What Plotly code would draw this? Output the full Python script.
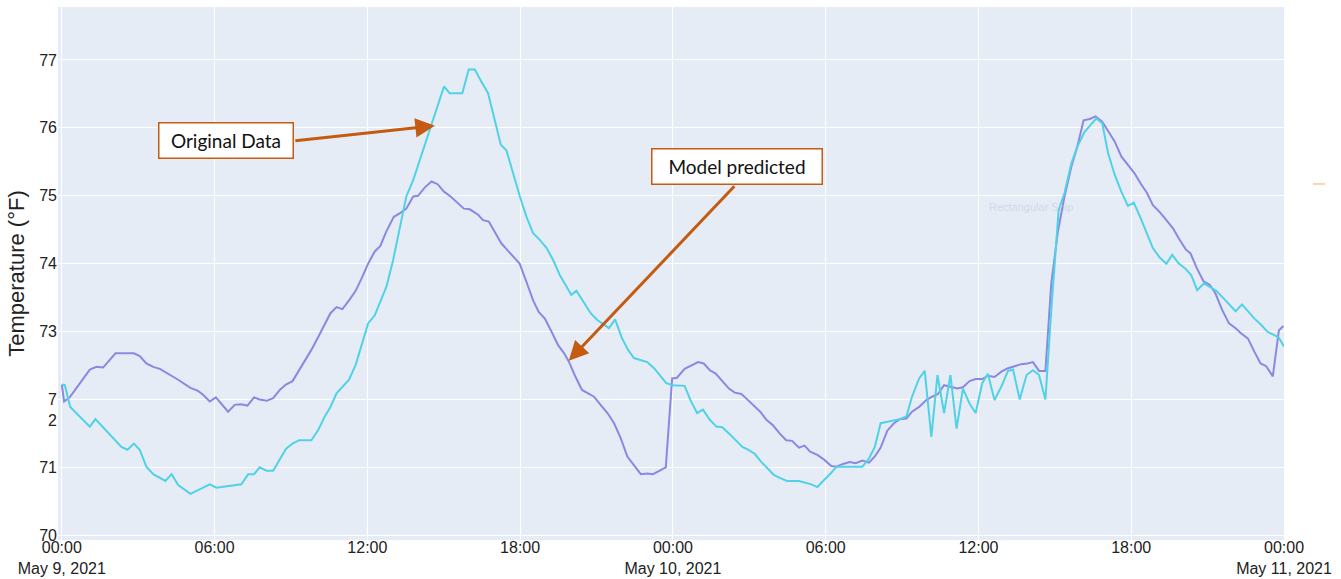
import pandas as pd
import plotly.graph_objects as go

START = pd.Timestamp("2021-05-09 00:00")

# Original data (hours since May 9 00:00, temperature in °F)
orig_hours = [0.0, 0.12, 0.33, 1.10, 1.32, 2.34, 2.58, 2.83, 3.06, 3.32, 3.59, 4.07, 4.31, 4.57, 5.05, 5.81,
              6.07, 7.05, 7.32, 7.55, 7.77, 8.04, 8.30, 8.56, 8.80, 9.06, 9.32, 9.80, 10.07, 10.33, 10.55,
              10.79, 11.02, 11.28, 11.54, 11.77, 12.03, 12.29, 12.51, 12.75, 13.01, 13.27, 13.53, 13.80,
              13.99, 14.25, 14.52, 14.76, 15.01, 15.23, 15.73, 15.98, 16.22, 16.48, 16.74, 17.00, 17.24,
              17.46, 17.72, 17.99, 18.25, 18.51, 18.77, 19.04, 19.30, 19.56, 19.78, 20.01, 20.21, 20.51,
              20.77, 21.03, 21.29, 21.49, 21.73, 21.99, 22.24, 22.47, 22.72, 22.99, 23.26, 23.52, 23.74,
              24.00, 24.46, 24.69, 24.95, 25.18, 25.45, 25.71, 25.94, 26.20, 26.47, 26.73, 26.95, 27.21,
              27.47, 27.74, 27.96, 28.22, 28.48, 28.95, 29.17, 29.44, 29.67, 29.95, 30.22, 30.42, 31.44,
              31.70, 31.93, 32.16, 32.38, 32.91, 33.17, 33.39, 33.67, 33.89, 34.15, 34.39, 34.65, 34.90,
              35.14, 35.39, 35.65, 35.89, 36.15, 36.37, 36.63, 36.90, 37.16, 37.36, 37.62, 37.89, 38.14,
              38.38, 38.63, 38.86, 39.15, 39.38, 39.65, 39.88, 40.17, 40.39, 40.63, 40.86, 41.09, 41.35,
              41.61, 41.87, 42.10, 42.35, 42.62, 42.85, 43.12, 43.38, 43.61, 43.87, 44.14, 44.36, 44.59,
              44.86, 45.12, 45.34, 45.60, 45.84, 46.10, 46.35, 46.58, 46.84, 47.10, 47.34, 47.60, 47.80,
              48.00]
orig_temp = [72.22, 72.21, 71.89, 71.60, 71.71, 71.30, 71.26, 71.35, 71.26, 71.01, 70.90, 70.80, 70.90, 70.74,
             70.61, 70.75, 70.70, 70.75, 70.90, 70.90, 71.00, 70.95, 70.95, 71.11, 71.27, 71.35, 71.40, 71.40,
             71.55, 71.75, 71.89, 72.09, 72.19, 72.29, 72.51, 72.80, 73.12, 73.24, 73.44, 73.66, 74.05, 74.54,
             74.99, 75.23, 75.45, 75.72, 76.04, 76.34, 76.61, 76.51, 76.51, 76.86, 76.86, 76.68, 76.51, 76.12,
             75.75, 75.67, 75.33, 74.99, 74.69, 74.45, 74.35, 74.23, 74.05, 73.83, 73.69, 73.54, 73.60, 73.42,
             73.27, 73.17, 73.10, 73.05, 73.18, 72.91, 72.73, 72.61, 72.58, 72.55, 72.46, 72.34, 72.24, 72.21,
             72.20, 71.99, 71.80, 71.85, 71.70, 71.60, 71.59, 71.50, 71.40, 71.30, 71.26, 71.20, 71.08, 70.97,
             70.89, 70.84, 70.80, 70.80, 70.78, 70.75, 70.71, 70.81, 70.92, 71.01, 71.01, 71.13, 71.30, 71.65,
             71.67, 71.71, 71.75, 72.04, 72.31, 72.42, 71.45, 72.36, 71.80, 72.36, 71.57, 72.16, 71.94, 71.80,
             72.24, 72.38, 71.99, 72.19, 72.42, 72.44, 72.00, 72.36, 72.43, 72.36, 72.00, 73.32, 74.79, 75.04,
             75.48, 75.72, 75.94, 76.03, 76.14, 76.07, 75.63, 75.31, 75.06, 74.85, 74.90, 74.69, 74.45, 74.23,
             74.09, 74.00, 74.13, 74.00, 73.92, 73.83, 73.61, 73.71, 73.65, 73.60, 73.50, 73.40, 73.30, 73.40,
             73.30, 73.19, 73.10, 73.00, 72.95, 72.91, 72.78]

# Model predicted (hours since May 9 00:00, temperature in °F)
model_hours = [0.0, 0.09, 0.31, 0.80, 1.10, 1.36, 1.62, 2.11, 2.34, 2.58, 2.83, 3.06, 3.32, 3.59, 3.85, 4.57,
               5.05, 5.33, 5.55, 5.81, 6.05, 6.53, 6.79, 7.03, 7.29, 7.55, 7.77, 8.04, 8.30, 8.56, 8.80, 9.06,
               9.32, 9.54, 9.80, 10.07, 10.33, 10.55, 10.79, 11.02, 11.28, 11.54, 11.77, 12.03, 12.29, 12.51,
               12.75, 13.04, 13.27, 13.53, 13.80, 13.99, 14.25, 14.52, 14.76, 15.01, 15.27, 15.50, 15.79,
               16.02, 16.35, 16.54, 16.77, 17.00, 17.26, 17.50, 17.76, 17.98, 18.25, 18.51, 18.73, 18.97,
               19.23, 19.49, 19.73, 19.91, 20.14, 20.43, 20.67, 20.90, 21.16, 21.43, 21.69, 21.95, 22.21,
               22.47, 22.74, 23.00, 23.22, 23.48, 23.72, 23.97, 24.16, 24.46, 24.72, 24.99, 25.21, 25.45,
               25.68, 25.94, 26.20, 26.43, 26.69, 26.95, 27.21, 27.43, 27.67, 27.93, 28.19, 28.45, 28.68,
               28.95, 29.17, 29.39, 29.69, 29.95, 30.22, 30.42, 30.68, 30.94, 31.18, 31.44, 31.70, 31.93,
               32.16, 32.42, 32.68, 32.91, 33.17, 33.39, 33.67, 33.95, 34.18, 34.41, 34.65, 34.91, 35.17,
               35.39, 35.65, 35.89, 36.15, 36.37, 36.63, 36.90, 37.16, 37.42, 37.68, 37.92, 38.14, 38.38,
               38.63, 38.86, 39.12, 39.38, 39.65, 39.88, 40.13, 40.37, 40.60, 40.86, 41.13, 41.35, 41.61,
               41.87, 42.13, 42.37, 42.62, 42.85, 43.12, 43.38, 43.64, 43.87, 44.14, 44.33, 44.58, 44.84,
               45.08, 45.31, 45.57, 45.84, 46.10, 46.32, 46.58, 46.84, 47.08, 47.30, 47.56, 47.80, 47.98]
model_temp = [72.22, 71.97, 72.03, 72.29, 72.44, 72.48, 72.47, 72.68, 72.68, 72.69, 72.68, 72.64, 72.53, 72.48,
              72.45, 72.29, 72.17, 72.13, 72.07, 71.97, 72.03, 71.82, 71.92, 71.93, 71.91, 72.03, 72.00, 71.98,
              72.02, 72.14, 72.22, 72.27, 72.43, 72.58, 72.73, 72.92, 73.12, 73.27, 73.36, 73.33, 73.46, 73.60,
              73.78, 74.00, 74.18, 74.26, 74.48, 74.69, 74.74, 74.81, 74.99, 75.00, 75.12, 75.21, 75.17, 75.06,
              74.99, 74.91, 74.81, 74.80, 74.72, 74.64, 74.62, 74.47, 74.30, 74.20, 74.10, 74.00, 73.73, 73.46,
              73.29, 73.19, 73.00, 72.80, 72.68, 72.56, 72.36, 72.14, 72.09, 72.04, 71.92, 71.80, 71.65, 71.43,
              71.16, 71.03, 70.90, 70.91, 70.90, 70.95, 71.00, 72.31, 72.32, 72.45, 72.50, 72.55, 72.53, 72.43,
              72.38, 72.27, 72.16, 72.10, 72.08, 71.99, 71.90, 71.82, 71.70, 71.62, 71.50, 71.40, 71.39, 71.29,
              71.32, 71.23, 71.18, 71.11, 71.02, 71.01, 71.05, 71.08, 71.06, 71.10, 71.07, 71.16, 71.29, 71.54,
              71.65, 71.71, 71.72, 71.82, 71.89, 71.99, 72.04, 72.08, 72.21, 72.19, 72.16, 72.18, 72.27, 72.30,
              72.30, 72.35, 72.33, 72.41, 72.46, 72.49, 72.52, 72.53, 72.55, 72.42, 72.42, 73.71, 74.47, 74.99,
              75.43, 75.72, 76.11, 76.13, 76.17, 76.09, 75.94, 75.80, 75.58, 75.45, 75.33, 75.18, 75.04, 74.86,
              74.76, 74.64, 74.52, 74.37, 74.21, 74.15, 73.93, 73.74, 73.69, 73.56, 73.32, 73.12, 73.05, 72.97,
              72.90, 72.70, 72.53, 72.49, 72.34, 73.02, 73.08]

# Axis ticks
x_tick_hours = [0, 6, 12, 18, 24, 30, 36, 42, 48]
x_tick_labels = ["00:00<br>May 9, 2021", "06:00", "12:00", "18:00", "00:00<br>May 10, 2021",
                 "06:00", "12:00", "18:00", "00:00<br>May 11, 2021"]
y_tick_vals = [70, 71, 72, 73, 74, 75, 76, 77]
y_tick_labels = ["70", "71", "&nbsp;<br>7<br>2", "73", "74", "75", "76", "77"]

def to_time(hours):
    return START + pd.to_timedelta(pd.Series(hours, dtype=float), unit="h")

ORANGE = "#C55A11"
fig = go.Figure()
fig.add_trace(go.Scatter(x=to_time(model_hours), y=model_temp, mode="lines", name="Model predicted",
                         line=dict(color="#8B88E2", width=2)))
fig.add_trace(go.Scatter(x=to_time(orig_hours), y=orig_temp, mode="lines", name="Original Data",
                         line=dict(color="#50D2E6", width=2)))

tick_times = to_time(x_tick_hours)
fig.update_xaxes(range=[START - pd.Timedelta(minutes=9), START + pd.Timedelta(hours=48)],
                 tickvals=tick_times, ticktext=x_tick_labels, showgrid=True, gridcolor="white",
                 zeroline=False, tickfont=dict(family="Liberation Sans, Arial", size=16, color="#222"),
                 automargin=False, ticks="", ticklabelstandoff=-4)
fig.update_yaxes(range=[69.93, 77.78], tickvals=y_tick_vals, ticktext=y_tick_labels, showgrid=True,
                 gridcolor="white", zeroline=False,
                 tickfont=dict(family="Liberation Sans, Arial", size=16, color="#222"),
                 title=dict(text="Temperature (°F)", standoff=8,
                            font=dict(family="Liberation Sans, Arial", size=22, color="#222")),
                 automargin=False, ticks="")

def tip(h):
    return START + pd.Timedelta(hours=h)

annotations = [
    dict(x=tip(14.65), y=76.03, xref="x", yref="y", text="", showarrow=True, ax=-141, ay=15,
         arrowhead=2, arrowsize=1.3, arrowwidth=3, arrowcolor=ORANGE),
    dict(x=tip(19.91), y=72.57, xref="x", yref="y", text="", showarrow=True, ax=167, ay=-176,
         arrowhead=2, arrowsize=1.3, arrowwidth=3, arrowcolor=ORANGE),
    dict(x=0.137, y=0.7495, xref="paper", yref="paper", xanchor="center", yanchor="middle",
         text="Original Data", showarrow=False,
         bgcolor="white", bordercolor=ORANGE, borderwidth=1.5, borderpad=0, width=133, height=34,
         font=dict(family="Lato", size=19, color="#111")),
    dict(x=0.554, y=0.7008, xref="paper", yref="paper", xanchor="center", yanchor="middle",
         text="Model predicted", showarrow=False,
         bgcolor="white", bordercolor=ORANGE, borderwidth=1.5, borderpad=0, width=169, height=34,
         font=dict(family="Lato", size=19, color="#111")),
    dict(x=0.794, y=0.625, xref="paper", yref="paper", xanchor="center", yanchor="middle",
         text="Rectangular Snip", showarrow=False,
         font=dict(family="Liberation Sans, Arial", size=11, color="rgba(190,200,225,0.55)")),
]

fig.update_layout(
    width=1341, height=579,
    margin=dict(l=58, r=57, t=7, b=39),
    plot_bgcolor="#E5ECF6", paper_bgcolor="white",
    showlegend=False,
    annotations=annotations,
    shapes=[dict(type="line", xref="paper", yref="paper", x0=1.0237, x1=1.0334, y0=0.668, y1=0.668,
                 line=dict(color="rgba(240,185,110,0.6)", width=2))],
)

fig.write_html("out.html", config={"displayModeBar": False},
               post_script="document.body.style.margin='0px';")
